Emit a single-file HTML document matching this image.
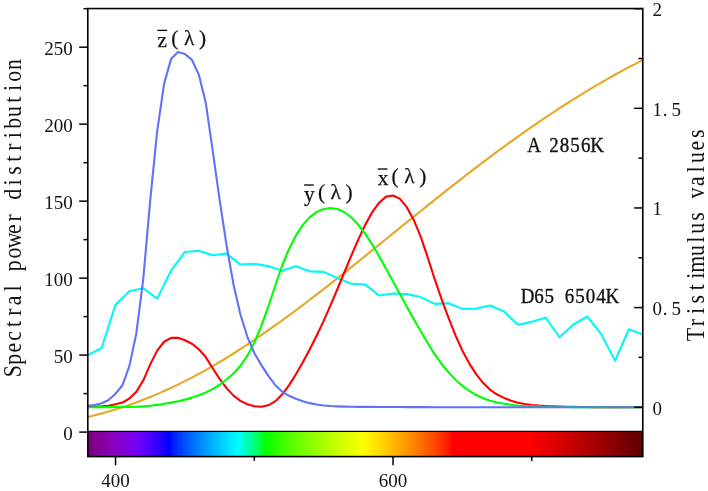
<!DOCTYPE html>
<html><head><meta charset="utf-8"><title>Spectral power distribution</title>
<style>
html,body{margin:0;padding:0;background:#fff;}
svg{display:block}
text{font-family:"Liberation Serif","Noto Serif CJK SC",serif;fill:#111;}
.b{stroke:#111;stroke-width:0.35px}
.c{stroke:#111;stroke-width:0.25px}
polyline{fill:none;stroke-width:2.1;stroke-linejoin:round;stroke-linecap:butt}
</style></head><body>
<svg width="708" height="491" viewBox="0 0 708 491">
<defs><linearGradient id="sp" gradientUnits="userSpaceOnUse" x1="85.30" y1="0" x2="640.30" y2="0"><stop offset="0.0000" stop-color="#730073"/><stop offset="0.0125" stop-color="#7d0086"/><stop offset="0.0250" stop-color="#840099"/><stop offset="0.0375" stop-color="#8800ab"/><stop offset="0.0500" stop-color="#8800bc"/><stop offset="0.0625" stop-color="#8600ce"/><stop offset="0.0750" stop-color="#8000de"/><stop offset="0.0875" stop-color="#7700ef"/><stop offset="0.1000" stop-color="#6a00ff"/><stop offset="0.1125" stop-color="#5400ff"/><stop offset="0.1250" stop-color="#3d00ff"/><stop offset="0.1375" stop-color="#2300ff"/><stop offset="0.1500" stop-color="#0000ff"/><stop offset="0.1625" stop-color="#0028ff"/><stop offset="0.1750" stop-color="#0046ff"/><stop offset="0.1875" stop-color="#0061ff"/><stop offset="0.2000" stop-color="#007bff"/><stop offset="0.2125" stop-color="#0092ff"/><stop offset="0.2250" stop-color="#00a9ff"/><stop offset="0.2375" stop-color="#00c0ff"/><stop offset="0.2500" stop-color="#00d5ff"/><stop offset="0.2625" stop-color="#00eaff"/><stop offset="0.2750" stop-color="#00ffff"/><stop offset="0.2875" stop-color="#00ffcb"/><stop offset="0.3000" stop-color="#00ff92"/><stop offset="0.3125" stop-color="#00ff54"/><stop offset="0.3250" stop-color="#00ff00"/><stop offset="0.3375" stop-color="#1fff00"/><stop offset="0.3500" stop-color="#36ff00"/><stop offset="0.3625" stop-color="#4aff00"/><stop offset="0.3750" stop-color="#5eff00"/><stop offset="0.3875" stop-color="#70ff00"/><stop offset="0.4000" stop-color="#81ff00"/><stop offset="0.4125" stop-color="#92ff00"/><stop offset="0.4250" stop-color="#a3ff00"/><stop offset="0.4375" stop-color="#b3ff00"/><stop offset="0.4500" stop-color="#c3ff00"/><stop offset="0.4625" stop-color="#d2ff00"/><stop offset="0.4750" stop-color="#e1ff00"/><stop offset="0.4875" stop-color="#f0ff00"/><stop offset="0.5000" stop-color="#ffff00"/><stop offset="0.5125" stop-color="#ffef00"/><stop offset="0.5250" stop-color="#ffdf00"/><stop offset="0.5375" stop-color="#ffcf00"/><stop offset="0.5500" stop-color="#ffbe00"/><stop offset="0.5625" stop-color="#ffad00"/><stop offset="0.5750" stop-color="#ff9b00"/><stop offset="0.5875" stop-color="#ff8900"/><stop offset="0.6000" stop-color="#ff7700"/><stop offset="0.6125" stop-color="#ff6300"/><stop offset="0.6250" stop-color="#ff4f00"/><stop offset="0.6375" stop-color="#ff3900"/><stop offset="0.6500" stop-color="#ff2100"/><stop offset="0.6625" stop-color="#ff0000"/><stop offset="0.6750" stop-color="#ff0000"/><stop offset="0.6875" stop-color="#ff0000"/><stop offset="0.7000" stop-color="#ff0000"/><stop offset="0.7125" stop-color="#ff0000"/><stop offset="0.7250" stop-color="#ff0000"/><stop offset="0.7375" stop-color="#ff0000"/><stop offset="0.7500" stop-color="#ff0000"/><stop offset="0.7625" stop-color="#ff0000"/><stop offset="0.7750" stop-color="#ff0000"/><stop offset="0.7875" stop-color="#ff0000"/><stop offset="0.8000" stop-color="#ff0000"/><stop offset="0.8125" stop-color="#f60000"/><stop offset="0.8250" stop-color="#ed0000"/><stop offset="0.8375" stop-color="#e40000"/><stop offset="0.8500" stop-color="#db0000"/><stop offset="0.8625" stop-color="#d10000"/><stop offset="0.8750" stop-color="#c80000"/><stop offset="0.8875" stop-color="#be0000"/><stop offset="0.9000" stop-color="#b50000"/><stop offset="0.9125" stop-color="#ab0000"/><stop offset="0.9250" stop-color="#a10000"/><stop offset="0.9375" stop-color="#970000"/><stop offset="0.9500" stop-color="#8d0000"/><stop offset="0.9625" stop-color="#820000"/><stop offset="0.9750" stop-color="#770000"/><stop offset="0.9875" stop-color="#6d0000"/><stop offset="1.0000" stop-color="#610000"/></linearGradient>
<clipPath id="cp"><rect x="87.80" y="8.70" width="555.00" height="423.40"/></clipPath></defs>
<rect x="0" y="0" width="708" height="491" fill="#fff"/>
<rect x="87.80" y="431.70" width="555.00" height="24.90" fill="url(#sp)"/>
<g clip-path="url(#cp)">
<polyline points="87.80,417.02 94.74,415.32 101.67,413.49 108.61,411.54 115.55,409.45 122.49,407.24 129.43,404.89 136.36,402.40 143.30,399.78 150.24,397.01 157.18,394.12 164.11,391.08 171.05,387.91 177.99,384.60 184.93,381.16 191.86,377.59 198.80,373.88 205.74,370.05 212.68,366.10 219.61,362.02 226.55,357.82 233.49,353.51 240.43,349.09 247.36,344.57 254.30,339.94 261.24,335.21 268.18,330.39 275.11,325.48 282.05,320.48 288.99,315.41 295.93,310.26 302.86,305.05 309.80,299.77 316.74,294.44 323.68,289.05 330.61,283.61 337.55,278.14 344.49,272.62 351.43,267.08 358.36,261.50 365.30,255.91 372.24,250.30 379.18,244.68 386.11,239.05 393.05,233.42 399.99,227.79 406.93,222.18 413.86,216.57 420.80,210.98 427.74,205.41 434.68,199.87 441.61,194.35 448.55,188.87 455.49,183.42 462.43,178.02 469.36,172.66 476.30,167.34 483.24,162.07 490.18,156.86 497.11,151.70 504.05,146.61 510.99,141.57 517.92,136.60 524.86,131.69 531.80,126.85 538.74,122.08 545.67,117.38 552.61,112.76 559.55,108.22 566.49,103.75 573.42,99.35 580.36,95.04 587.30,90.81 594.24,86.67 601.17,82.60 608.11,78.62 615.05,74.73 621.99,70.92 628.92,67.19 635.86,63.56 642.80,60.01" stroke="#e6a628" stroke-width="1.95"/>
<polyline points="87.80,355.16 101.67,347.96 115.55,304.69 129.43,291.24 143.30,288.25 157.18,298.64 171.05,270.65 184.93,251.95 198.80,250.71 212.68,255.26 226.55,253.62 240.43,264.57 254.30,263.73 268.18,266.12 282.05,270.76 295.93,266.30 309.80,271.35 323.68,271.91 337.55,278.14 351.43,283.78 365.30,284.62 379.18,295.56 393.05,293.52 406.93,294.15 420.80,297.08 434.68,303.87 448.55,303.23 462.43,308.89 476.30,308.60 490.18,305.42 504.05,311.57 517.92,324.75 531.80,321.85 545.67,317.63 559.55,337.25 573.42,324.50 587.30,316.49 601.17,334.19 615.05,360.63 628.92,329.24 642.80,334.51" stroke="#00f8f8"/>
<polyline points="87.80,406.92 94.74,406.75 101.67,406.35 108.61,405.67 115.55,404.34 122.49,402.57 129.43,398.52 136.36,391.73 143.30,380.42 150.24,364.40 157.18,350.63 164.11,341.74 171.05,337.80 177.99,337.84 184.93,340.21 191.86,343.69 198.80,349.25 205.74,357.16 212.68,368.27 219.61,378.88 226.55,388.14 233.49,395.65 240.43,400.82 247.36,404.27 254.30,406.22 261.24,406.72 268.18,405.34 275.11,401.40 282.05,394.59 288.99,385.36 295.93,374.22 302.86,362.21 309.80,349.33 316.74,335.52 323.68,320.83 330.61,305.17 337.55,288.74 344.49,272.02 351.43,255.35 358.36,239.33 365.30,224.62 372.24,212.21 379.18,202.71 386.11,196.65 393.05,195.55 399.99,198.86 406.93,207.43 413.86,220.22 420.80,236.95 427.74,257.48 434.68,279.20 441.61,299.22 448.55,317.95 455.49,335.31 462.43,350.71 469.36,363.62 476.30,374.34 483.24,383.05 490.18,389.78 497.11,394.52 504.05,397.88 510.99,400.64 517.92,402.67 524.86,404.04 531.80,404.93 538.74,405.58 545.67,406.04 552.61,406.38 559.55,406.62 566.49,406.79 573.42,406.91 580.36,406.99 587.30,407.06 594.24,407.10 601.17,407.13 608.11,407.15 615.05,407.16 621.99,407.17 628.92,407.18 635.86,407.18 642.80,407.19" stroke="#ff0000"/>
<polyline points="87.80,407.19 94.74,407.18 101.67,407.17 108.61,407.15 115.55,407.12 122.49,407.07 129.43,406.95 136.36,406.76 143.30,406.40 150.24,405.74 157.18,404.88 164.11,403.84 171.05,402.61 177.99,401.26 184.93,399.62 191.86,397.63 198.80,395.24 205.74,392.47 212.68,389.07 219.61,384.76 226.55,379.49 233.49,373.46 240.43,365.75 247.36,355.67 254.30,342.84 261.24,326.04 268.18,306.97 275.11,286.01 282.05,265.73 288.99,249.15 295.93,235.44 302.86,224.91 309.80,217.11 316.74,211.87 323.68,208.95 330.61,207.95 337.55,208.94 344.49,212.21 351.43,217.51 358.36,224.80 365.30,233.85 372.24,244.55 379.18,256.36 386.11,268.74 393.05,281.47 399.99,294.26 406.93,306.97 413.86,319.29 420.80,331.28 427.74,343.24 434.68,354.39 441.61,363.96 448.55,372.33 455.49,379.66 462.43,385.87 469.36,390.94 476.30,395.04 483.24,398.31 490.18,400.82 497.11,402.57 504.05,403.81 510.99,404.82 517.92,405.56 524.86,406.05 531.80,406.38 538.74,406.61 545.67,406.78 552.61,406.90 559.55,406.99 566.49,407.05 573.42,407.09 580.36,407.12 587.30,407.14 594.24,407.16 601.17,407.17 608.11,407.18 615.05,407.18 621.99,407.19 628.92,407.19 635.86,407.19 642.80,407.19" stroke="#00ff00"/>
<polyline points="87.80,405.91 94.74,405.09 101.67,403.20 108.61,399.98 115.55,393.68 122.49,385.24 129.43,365.87 136.36,333.21 143.30,278.56 150.24,200.17 157.18,131.12 164.11,83.82 171.05,59.10 177.99,52.02 184.93,54.11 191.86,59.69 198.80,74.61 205.74,102.72 212.68,150.64 219.61,199.60 226.55,245.22 233.49,284.42 240.43,314.51 247.36,336.80 254.30,353.00 261.24,364.89 268.18,375.67 275.11,384.94 282.05,391.60 288.99,395.79 295.93,398.79 302.86,401.25 309.80,403.15 316.74,404.52 323.68,405.45 330.61,406.05 337.55,406.42 344.49,406.65 351.43,406.78 358.36,406.84 365.30,406.87 372.24,406.92 379.18,406.97 386.11,406.99 393.05,407.03 399.99,407.07 406.93,407.13 413.86,407.15 420.80,407.16 427.74,407.17 434.68,407.18 441.61,407.19 448.55,407.19 455.49,407.19 462.43,407.19 469.36,407.19 476.30,407.19 483.24,407.19 490.18,407.19 497.11,407.19 504.05,407.19 510.99,407.19 517.92,407.19 524.86,407.19 531.80,407.19 538.74,407.19 545.67,407.19 552.61,407.19 559.55,407.19 566.49,407.19 573.42,407.19 580.36,407.19 587.30,407.19 594.24,407.19 601.17,407.19 608.11,407.19 615.05,407.19 621.99,407.19 628.92,407.19 635.86,407.19 642.80,407.19" stroke="#6272f8"/>
</g>
<line x1="87.80" y1="431.40" x2="642.80" y2="431.40" stroke="#000" stroke-width="1.2"/>
<rect x="87.80" y="8.55" width="555.00" height="448.05" fill="none" stroke="#000" stroke-width="1.6"/>
<line x1="79.20" y1="432.10" x2="87.80" y2="432.10" stroke="#000" stroke-width="1.50"/><line x1="83.50" y1="393.61" x2="87.80" y2="393.61" stroke="#000" stroke-width="1.50"/><line x1="79.20" y1="355.12" x2="87.80" y2="355.12" stroke="#000" stroke-width="1.50"/><line x1="83.50" y1="316.63" x2="87.80" y2="316.63" stroke="#000" stroke-width="1.50"/><line x1="79.20" y1="278.14" x2="87.80" y2="278.14" stroke="#000" stroke-width="1.50"/><line x1="83.50" y1="239.65" x2="87.80" y2="239.65" stroke="#000" stroke-width="1.50"/><line x1="79.20" y1="201.15" x2="87.80" y2="201.15" stroke="#000" stroke-width="1.50"/><line x1="83.50" y1="162.66" x2="87.80" y2="162.66" stroke="#000" stroke-width="1.50"/><line x1="79.20" y1="124.17" x2="87.80" y2="124.17" stroke="#000" stroke-width="1.50"/><line x1="83.50" y1="85.68" x2="87.80" y2="85.68" stroke="#000" stroke-width="1.50"/><line x1="79.20" y1="47.19" x2="87.80" y2="47.19" stroke="#000" stroke-width="1.50"/><line x1="83.50" y1="8.70" x2="87.80" y2="8.70" stroke="#000" stroke-width="1.50"/><line x1="634.20" y1="407.19" x2="642.80" y2="407.19" stroke="#000" stroke-width="1.50"/><line x1="638.50" y1="357.38" x2="642.80" y2="357.38" stroke="#000" stroke-width="1.50"/><line x1="634.20" y1="307.57" x2="642.80" y2="307.57" stroke="#000" stroke-width="1.50"/><line x1="638.50" y1="257.76" x2="642.80" y2="257.76" stroke="#000" stroke-width="1.50"/><line x1="634.20" y1="207.95" x2="642.80" y2="207.95" stroke="#000" stroke-width="1.50"/><line x1="638.50" y1="158.14" x2="642.80" y2="158.14" stroke="#000" stroke-width="1.50"/><line x1="634.20" y1="108.32" x2="642.80" y2="108.32" stroke="#000" stroke-width="1.50"/><line x1="638.50" y1="58.51" x2="642.80" y2="58.51" stroke="#000" stroke-width="1.50"/><line x1="634.20" y1="8.70" x2="642.80" y2="8.70" stroke="#000" stroke-width="1.50"/><line x1="115.55" y1="456.60" x2="115.55" y2="465.20" stroke="#000" stroke-width="1.50"/><line x1="254.30" y1="456.60" x2="254.30" y2="460.90" stroke="#000" stroke-width="1.50"/><line x1="393.05" y1="456.60" x2="393.05" y2="465.20" stroke="#000" stroke-width="1.50"/><line x1="531.80" y1="456.60" x2="531.80" y2="460.90" stroke="#000" stroke-width="1.50"/>
<text x="72.7" y="439.7" text-anchor="end" font-size="19.0">0</text><text x="72.7" y="362.7" text-anchor="end" font-size="19.0">50</text><text x="72.7" y="285.7" text-anchor="end" font-size="19.0">100</text><text x="72.7" y="208.8" text-anchor="end" font-size="19.0">150</text><text x="72.7" y="131.8" text-anchor="end" font-size="19.0">200</text><text x="72.7" y="54.8" text-anchor="end" font-size="19.0">250</text><text x="652.4" y="414.5" font-size="19.0">0</text><text x="652.4 662.8 671.6" y="314.9" font-size="19.0">0.5</text><text x="652.4" y="215.2" font-size="19.0">1</text><text x="652.4 662.8 671.6" y="115.6" font-size="19.0">1.5</text><text x="652.4" y="16.2" font-size="19.0">2</text><text x="115.5" y="487.3" text-anchor="middle" font-size="19.0">400</text><text x="393.1" y="487.3" text-anchor="middle" font-size="19.0">600</text>
<text class="c" font-size="21.3" y="46.6" x="157.4 171.3 183.9 198.9" dy="0 -1.8">z(λ)</text><line x1="157.4" y1="30.4" x2="167.1" y2="30.4" stroke="#000" stroke-width="1.3"/><text class="c" font-size="21.3" y="201.2" x="304.1 318.0 330.6 345.6" dy="0 -1.8">y(λ)</text><line x1="304.1" y1="185.0" x2="313.8" y2="185.0" stroke="#000" stroke-width="1.3"/><text class="c" font-size="21.3" y="185.2" x="377.7 391.6 404.2 419.2" dy="0 -1.8">x(λ)</text><line x1="377.7" y1="169.0" x2="387.4" y2="169.0" stroke="#000" stroke-width="1.3"/><text class="b" font-size="21.1" text-anchor="middle" transform="translate(527.6,152.2) scale(0.90,1)" x="7.2 17.6 29.3 41.0 52.8 64.5 77.1" y="0">A 2856K</text><text class="b" font-size="21.1" text-anchor="middle" transform="translate(522.0,302.8) scale(0.90,1)" x="6.1 18.9 30.2 41.0 52.8 64.5 76.2 87.9 100.5" y="0">D65 6504K</text>
<text font-size="24.8" text-anchor="middle" transform="translate(20.7,377.1) rotate(-90) scale(0.88,1)" x="6.7 20.1 33.5 46.9 60.3 73.8 87.2 100.6 114.0 126.4 141.0 155.3 168.2 181.0 194.4 207.8 221.3 234.7 248.1 261.5 274.9 288.3 301.7 315.1 328.5 341.9 355.3" y="0">Spectral power distribution</text>
<text font-size="24.8" text-anchor="middle" transform="translate(704.3,340.4) rotate(-90) scale(0.88,1)" x="6.7 20.1 33.5 46.9 60.3 73.4 86.5 102.0 114.4 127.4 140.8 154.2 167.6 181.0 194.4 207.8 221.3 234.7" y="0">Tristimulus values</text>
</svg>
</body></html>
